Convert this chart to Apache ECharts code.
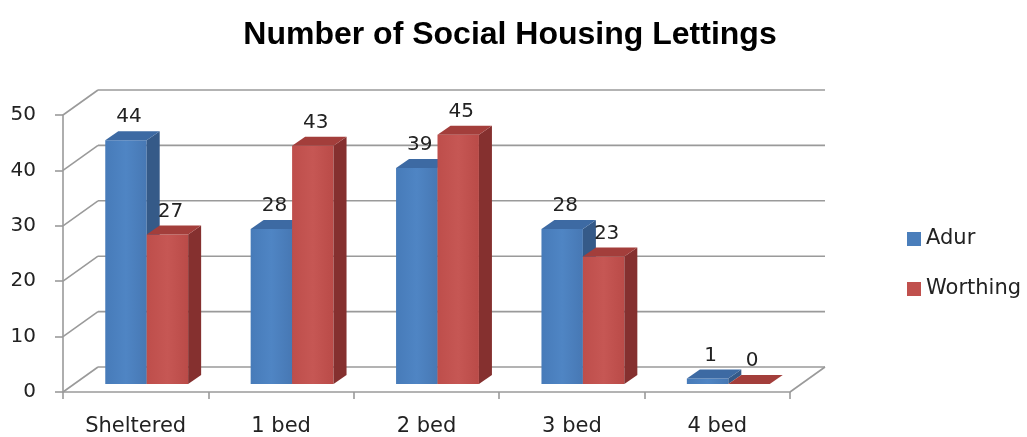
<!DOCTYPE html>
<html>
<head>
<meta charset="utf-8">
<script src="https://cdn.jsdelivr.net/npm/echarts@6/dist/echarts.min.js"></script>
<style>
  html, body { margin: 0; padding: 0; background: #fff; }
  #chart { width: 1027px; height: 437px; }
</style>
</head>
<body>
<div id="chart"></div>
<script>
const CATEGORIES = ['Sheltered', '1 bed', '2 bed', '3 bed', '4 bed']
const ADUR = [44, 28, 39, 28, 1]
const WORTHING = [27, 43, 45, 23, 0]
const VALUE_TICKS = [0, 10, 20, 30, 40, 50]

// 3d look: bars sit a bit behind the front plane, back wall further behind
const DX = 11, DY = -8       // bar base offset from front plane
const SX = 13, SY = -9       // bar depth
const BX = 35, BY = -25      // back wall offset
const BAR_RATIO = 0.285
const FONT = 'DejaVu Sans'

const myChart = echarts.init(document.getElementById('chart'))

function bar3d(idx, front, side, top) {
  return function (params, api) {
    const cat = api.value(0)
    const v = api.value(1)
    const p0 = api.coord([cat, 0])
    const p1 = api.coord([cat, v])
    const w = api.size([1, 0])[0] * BAR_RATIO
    const x0 = p0[0] + DX - w + idx * w
    const x1 = x0 + w
    const yb = p0[1] + DY
    const yt = p1[1] + DY
    return {
      type: 'group',
      children: [
        {
          type: 'polygon',
          shape: { points: [[x0, yt], [x1, yt], [x1, yb], [x0, yb]] },
          style: {
            fill: new echarts.graphic.LinearGradient(0, 0, 1, 0, [
              { offset: 0, color: front[0] },
              { offset: 0.5, color: front[1] },
              { offset: 1, color: front[2] },
            ]),
          },
        },
        {
          type: 'polygon',
          shape: { points: [[x1, yt], [x1 + SX, yt + SY], [x1 + SX, yb + SY], [x1, yb]] },
          style: { fill: side },
        },
        {
          type: 'polygon',
          shape: { points: [[x0, yt], [x0 + SX, yt + SY], [x1 + SX, yt + SY], [x1, yt]] },
          style: { fill: top },
        },
        {
          type: 'text',
          style: {
            x: (x0 + x1) / 2 + 3,
            y: yt + SY - 14,
            text: String(v),
            fill: '#222',
            font: '20px "' + FONT + '"',
            align: 'center',
            verticalAlign: 'middle',
          },
        },
      ],
    }
  }
}

function walls(params, api) {
  const cs = params.coordSys
  const L = cs.x
  const R = cs.x + cs.width
  const y = api.coord([0, api.value(1)])[1]
  const ls = { stroke: '#9a9a9a', lineWidth: 1.6 }
  const children = [
    { type: 'line', shape: { x1: L, y1: y, x2: L + BX, y2: y + BY }, style: ls },
    { type: 'line', shape: { x1: L + BX, y1: y + BY, x2: R + BX, y2: y + BY }, style: ls },
  ]
  if (api.value(1) === 0) {
    children.push({ type: 'line', shape: { x1: R, y1: y, x2: R + BX, y2: y + BY }, style: ls })
  }
  return { type: 'group', children: children }
}

const option = {
  animation: false,
  title: {
    text: 'Number of Social Housing Lettings',
    left: 505,
    textAlign: 'center',
    top: 14,
    textStyle: {
      fontFamily: 'Liberation Sans',
      fontSize: 32,
      fontWeight: 'bold',
      color: '#000',
    },
  },
  legend: {
    data: ['Adur', 'Worthing'],
    orient: 'vertical',
    left: 902,
    top: 222,
    icon: 'rect',
    itemWidth: 14,
    itemHeight: 14,
    itemGap: 26,
    textStyle: { fontFamily: FONT, fontSize: 21, color: '#222', lineHeight: 24 },
  },
  grid: {
    left: 63,
    right: 237,
    top: 115,
    bottom: 43,
  },
  xAxis: {
    type: 'category',
    data: CATEGORIES,
    axisLine: { lineStyle: { color: '#9a9a9a', width: 1.6 } },
    axisTick: { show: true, length: 7, lineStyle: { color: '#9a9a9a', width: 1.6 } },
    axisLabel: { margin: 24, color: '#222', fontFamily: FONT, fontSize: 21 },
  },
  yAxis: {
    type: 'value',
    min: 0,
    max: 50,
    interval: 10,
    axisLine: { show: true, lineStyle: { color: '#9a9a9a', width: 1.6 } },
    axisTick: { show: true, length: 8, lineStyle: { color: '#9a9a9a', width: 1.6 } },
    axisLabel: { margin: 27, color: '#222', fontFamily: FONT, fontSize: 20 },
    splitLine: { show: false },
  },
  series: [
    {
      name: 'walls',
      type: 'custom',
      silent: true,
      z: 1,
      renderItem: walls,
      data: VALUE_TICKS.map((v) => [0, v]),
    },
    {
      name: 'Adur',
      type: 'custom',
      z: 2,
      itemStyle: { color: '#4a7ebb' },
      renderItem: bar3d(0, ['#477bb9', '#4f85c4', '#4778b4'], '#355a88', '#3d6aa3'),
      data: ADUR.map((v, i) => [i, v]),
    },
    {
      name: 'Worthing',
      type: 'custom',
      z: 3,
      itemStyle: { color: '#c0504d' },
      renderItem: bar3d(1, ['#be4e4b', '#c65754', '#ba4b48'], '#85302f', '#a33e3b'),
      data: WORTHING.map((v, i) => [i, v]),
    },
  ],
}

myChart.setOption(option)
</script>
</body>
</html>
